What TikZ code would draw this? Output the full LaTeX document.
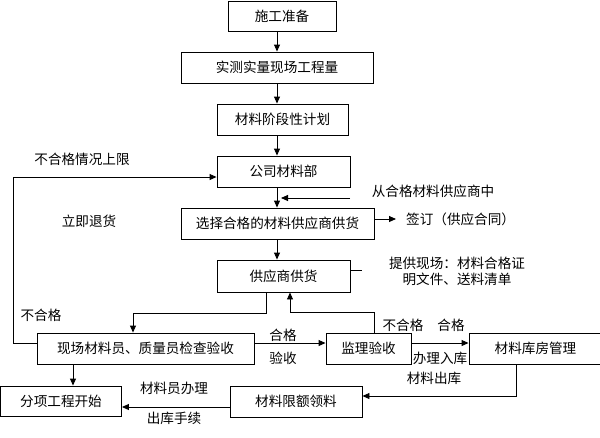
\documentclass[tikz,border=0pt]{standalone}
\usepackage{fontspec}
\setmainfont{Noto Sans CJK SC}
\usetikzlibrary{arrows.meta}
\tikzset{
  box/.style={draw, line width=0.9pt, inner sep=0pt, anchor=center},
  lbl/.style={inner sep=0pt, anchor=center},
  ln/.style={line width=0.9pt},
  arr/.style={line width=0.9pt, -{Triangle[length=7pt,width=6pt]}},
}
\begin{document}
\begin{tikzpicture}[x=1pt,y=-1pt, font=\fontsize{13.6}{15.5}\selectfont]
\useasboundingbox (0,0) rectangle (600,437);
\clip (0,0) rectangle (600,437);
% boxes
\node[box, minimum width=108pt, minimum height=30pt] (A) at (282,16) {施工准备};
\node[box, minimum width=192pt, minimum height=31pt] (B) at (277,67.5) {实测实量现场工程量};
\node[box, minimum width=131pt, minimum height=31pt] (C) at (282.5,119.5) {材料阶段性计划};
\node[box, minimum width=133pt, minimum height=31pt] (D) at (283.5,171.5) {公司材料部};
\node[box, minimum width=193pt, minimum height=31pt] (E) at (277.5,223.5) {选择合格的材料供应商供货};
\node[box, minimum width=133pt, minimum height=32pt] (F) at (283.5,276) {供应商供货};
\node[box, minimum width=217pt, minimum height=31pt] (G) at (145.5,348.5) {现场材料员、质量员检查验收};
\node[box, minimum width=85pt, minimum height=31pt] (H) at (368.5,348.5) {监理验收};
\node[box, minimum width=133pt, minimum height=31pt] (I) at (535.5,348.5) {材料库房管理};
\node[box, minimum width=132pt, minimum height=31pt] (J) at (296,401.5) {材料限额领料};
\node[box, minimum width=121pt, minimum height=30pt] (K) at (61,401) {分项工程开始};
% helper coordinates
\coordinate (ax) at (277,0);
\coordinate (sup) at (281,198);
\coordinate (supS) at (350,198);
\coordinate (sign) at (396,219);
\coordinate (prov) at (362,270);
\coordinate (fx) at (266,0);
\coordinate (fy) at (290,0);
\coordinate (hx) at (374,0);
\coordinate (gx) at (133,0);
\coordinate (kx) at (73,0);
\coordinate (ix) at (516,0);
% main vertical chain
\draw[arr] (A.south -| ax) -- (B.north -| ax);
\draw[arr] (B.south -| ax) -- (C.north -| ax);
\draw[arr] (C.south -| ax) -- (D.north -| ax);
\draw[arr] (D.south -| ax) -- (E.north -| ax);
\draw[arr] (E.south -| ax) -- (F.north -| ax);
% supplier pool arrow
\draw[arr] (supS) -- (sup);
% signing arrow
\draw[arr] (E.east |- sign) -- (sign);
% provide line
\draw[ln] (F.east |- prov) -- (prov);
% reject loop
\draw[arr] (G.west |- 0,343) -- (13,343) -- (13,177) -- (D.west |- 0,177);
% F to G
\draw[arr] (F.south -| fx) -- (266,313) -- (133,313) -- (G.north -| gx);
% H back to F
\draw[arr] (H.north -| hx) -- (374,312) -- (290,312) -- (F.south -| fy);
% G to H, H to I
\draw[arr] (G.east |- 0,343) -- (H.west |- 0,343);
\draw[arr] (H.east |- 0,343) -- (I.west |- 0,343);
% I to J
\draw[arr] (I.south -| ix) -- (516,396) -- (J.east |- 0,396);
% J to K
\draw[arr] (J.west |- 0,407) -- (K.east |- 0,407);
% G to K
\draw[arr] (G.south -| kx) -- (K.north -| kx);
% labels
\node[lbl] (t1) at (82,159) {不合格情况上限};
\node[lbl] (t2) at (433,191) {从合格材料供应商中};
\node[lbl] (t3) at (89,221) {立即退货};
\node[lbl, anchor=west] (t4) at (406,219) {签订（供应合同）};
\node[lbl, align=center] (t5) at (457,271.5) {提供现场：材料合格证\\明文件、送料清单};
\node[lbl] (t6) at (41,315) {不合格};
\node[lbl] (t7) at (283,335) {合格};
\node[lbl] (t8) at (283,358) {验收};
\node[lbl] (t9) at (403,325) {不合格};
\node[lbl] (t10) at (451,325) {合格};
\node[lbl] (t11) at (440,358) {办理入库};
\node[lbl] (t12) at (434,378) {材料出库};
\node[lbl] (t13) at (174,388) {材料员办理};
\node[lbl] (t14) at (174,418) {出库手续};
\end{tikzpicture}
\end{document}
